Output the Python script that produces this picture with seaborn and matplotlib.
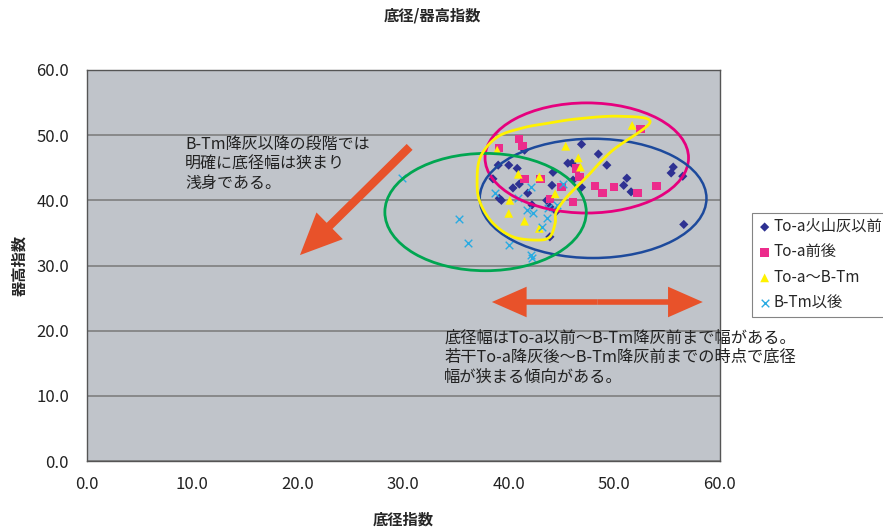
import matplotlib
matplotlib.use("Agg")
import matplotlib.pyplot as plt
import numpy as np
import pandas as pd
import seaborn as sns
from matplotlib.patches import Ellipse, FancyArrowPatch, Polygon


# 底径指数 / 器高指数 per group
pre_x = [46.9, 48.5, 49.3, 45.6, 46.0, 39.0, 40.0, 40.8, 41.5, 38.5, 44.2, 44.1,
         41.8, 41.0, 40.4, 39.3, 39.1, 42.2, 43.6, 43.9, 46.1, 46.9, 51.2, 50.9,
         51.6, 55.6, 55.4, 56.5, 56.6, 43.9, 44.5]
pre_y = [48.6, 47.1, 45.4, 45.7, 45.7, 45.4, 45.4, 44.9, 47.7, 43.3, 44.3, 42.3,
         41.1, 42.5, 41.9, 40.0, 40.3, 39.3, 40.0, 39.0, 43.1, 42.0, 43.4, 42.3,
         41.3, 45.1, 44.2, 43.7, 36.3, 34.4, 38.3]

toa_x = [41.0, 41.3, 39.1, 41.5, 43.0, 46.4, 46.7, 45.0, 43.9, 46.1, 48.2, 48.9,
         50.0, 52.2, 54.0, 52.5]
toa_y = [49.4, 48.3, 48.0, 43.3, 43.3, 44.9, 43.6, 42.0, 40.2, 39.7, 42.2, 41.1,
         42.0, 41.1, 42.2, 50.9]

mid_x = [51.7, 38.9, 45.4, 46.6, 46.8, 40.9, 42.9, 44.4, 40.1, 40.0, 41.5, 42.9]
mid_y = [51.5, 47.7, 48.3, 46.5, 45.1, 44.0, 43.6, 41.0, 40.0, 38.0, 36.8, 35.7]

post_x = [29.9, 35.3, 36.1, 40.0, 42.1, 42.2, 38.7, 40.9, 42.1, 41.7, 42.3, 43.7,
          44.6, 45.1, 43.2, 43.6]
post_y = [43.4, 37.1, 33.4, 33.1, 31.6, 31.1, 41.1, 40.3, 42.0, 38.5, 38.0, 38.8,
          39.3, 42.5, 35.9, 37.3]

groups = ["To-a火山灰以前", "To-a前後", "To-a～B-Tm", "B-Tm以後"]

# hand-drawn outline around the To-a～B-Tm group
yellow_x = [53.4, 50.5, 46.5, 43.6, 41.3, 38.9, 37.3, 37.0, 37.3, 38.5, 40.4, 42.7,
            43.9, 44.4, 44.5, 45.5, 47.4, 49.8]
yellow_y = [52.0, 52.9, 52.5, 51.8, 51.1, 49.7, 46.6, 42.6, 39.6, 36.5, 34.4, 33.9,
            34.4, 36.5, 38.2, 40.5, 43.6, 47.6]

df = pd.DataFrame({
    "x": pre_x + toa_x + mid_x + post_x,
    "y": pre_y + toa_y + mid_y + post_y,
    "group": [groups[0]] * len(pre_x) + [groups[1]] * len(toa_x)
             + [groups[2]] * len(mid_x) + [groups[3]] * len(post_x),
})

sns.set_style("white")
plt.rcParams["font.family"] = ["Noto Sans CJK JP", "DejaVu Sans"]

fig = plt.figure(figsize=(8.83, 5.29), dpi=100)
ax = fig.add_axes([0.0985, 0.1285, 0.7165, 0.7392])
ax.set_facecolor("#c0c4ca")

styles = {
    groups[0]: dict(marker="D", color="#2e3192", s=22, edgecolor="none"),
    groups[1]: dict(marker="s", color="#ec2c8c", s=36, edgecolor="none"),
    groups[2]: dict(marker="^", color="#fff200", s=40, edgecolor="none"),
    groups[3]: dict(marker="x", color="#29abe2", s=30, linewidth=1.0),
}
for g in groups:
    sub = df[df["group"] == g]
    sns.scatterplot(data=sub, x="x", y="y", ax=ax, label=g, zorder=3, **styles[g])

# ellipses
ax.add_patch(Ellipse((47.4, 46.5), 19.3, 16.9, fill=False, ec="#e6007e", lw=2, zorder=4))
ax.add_patch(Ellipse((48.0, 40.3), 21.5, 18.3, fill=False, ec="#1d4a9c", lw=1.8, zorder=4))
ax.add_patch(Ellipse((37.8, 38.2), 19.1, 18.0, fill=False, ec="#00a651", lw=2, zorder=4))


def closed_spline(xs, ys, n=20):
    p = np.column_stack([xs, ys])
    m = len(p)
    out = []
    for i in range(m):
        p0, p1, p2, p3 = p[i - 1], p[i], p[(i + 1) % m], p[(i + 2) % m]
        for t in np.linspace(0, 1, n, endpoint=False):
            out.append(0.5 * ((2 * p1) + (-p0 + p2) * t
                              + (2 * p0 - 5 * p1 + 4 * p2 - p3) * t ** 2
                              + (-p0 + 3 * p1 - 3 * p2 + p3) * t ** 3))
    return np.array(out)


ax.add_patch(Polygon(closed_spline(yellow_x, yellow_y), closed=True, fill=False,
                     ec="#fff200", lw=2, zorder=4))

# arrows
arrow_col = "#e8522a"
ax.add_patch(FancyArrowPatch((30.6, 48.2), (20.2, 31.6),
                             arrowstyle="simple,head_length=30,head_width=27,tail_width=6",
                             mutation_scale=1, color=arrow_col, lw=0, zorder=5,
                             shrinkA=0, shrinkB=0))
for end in (38.4, 58.4):
    ax.add_patch(FancyArrowPatch((48.4, 24.4), (end, 24.4),
                                 arrowstyle="simple,head_length=25,head_width=22,tail_width=4",
                                 mutation_scale=1, color=arrow_col, lw=0, zorder=5,
                                 shrinkA=0, shrinkB=0))

ax.text(9.3, 49.9, "B-Tm降灰以降の段階では\n明確に底径幅は狭まり\n浅身である。",
        fontsize=11.5, va="top", ha="left", linespacing=1.2, color="#222222", zorder=6)
ax.text(33.9, 20.2, "底径幅はTo-a以前～B-Tm降灰前まで幅がある。\n"
        "若干To-a降灰後～B-Tm降灰前までの時点で底径\n幅が狭まる傾向がある。",
        fontsize=11.7, va="top", ha="left", linespacing=1.2, color="#222222",
        clip_on=False, zorder=6)

ax.set_xlim(0, 60)
ax.set_ylim(0, 60)
ax.set_xticks(np.arange(0, 61, 10))
ax.set_yticks(np.arange(0, 61, 10))
ax.set_xticklabels([f"{v:.1f}" for v in np.arange(0, 61, 10)], fontsize=12)
ax.set_yticklabels([f"{v:.1f}" for v in np.arange(0, 61, 10)], fontsize=12)
ax.yaxis.grid(True, color="#7f7f7f", lw=1.2)
ax.set_axisbelow(True)
for sp in ax.spines.values():
    sp.set_color("#555555")
    sp.set_linewidth(1)
ax.tick_params(axis="y", length=0, pad=13, labelcolor="#222222")
ax.tick_params(axis="x", length=0, pad=11, labelcolor="#222222")

ax.set_xlabel("底径指数", fontsize=11, fontweight="bold", labelpad=13)
ax.set_ylabel("器高指数", fontsize=11, fontweight="bold", labelpad=6)
fig.suptitle("底径/器高指数", fontsize=11, fontweight="bold", x=0.49, y=0.985)

leg = ax.legend(loc="upper left", bbox_to_anchor=(1.0506, 0.635), frameon=True,
                fancybox=False, edgecolor="#666666", fontsize=11,
                handletextpad=0.1, borderpad=0.35, labelspacing=0.55,
                handlelength=1.0, borderaxespad=0)
leg.get_frame().set_linewidth(0.8)

fig.savefig("out.png", dpi=100)
